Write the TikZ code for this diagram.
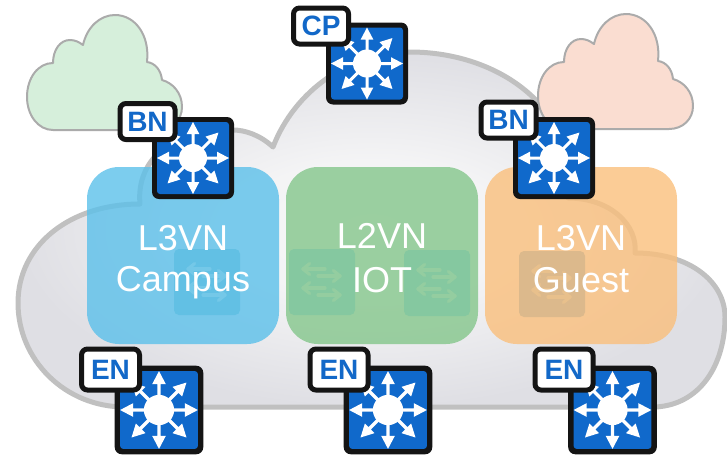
\documentclass[tikz,border=0pt]{standalone}
\usepackage{fontspec}
\setmainfont{Liberation Sans}
\definecolor{iconblue}{HTML}{1069CB}
\definecolor{iconblack}{HTML}{141414}
\definecolor{labelblue}{HTML}{1268C8}
\pgfdeclareradialshading{cloudshade}{\pgfpoint{0bp}{0bp}}{rgb(0bp)=(0.97,0.97,0.975);rgb(10bp)=(0.955,0.955,0.96);rgb(25bp)=(0.875,0.875,0.895);rgb(50bp)=(0.875,0.875,0.895)}
\tikzset{
  x=1pt,y=-1pt,
  bigcloud/.style={draw={rgb,255:red,192;green,192;blue,192},line width=5pt,line join=round,shading=cloudshade},
  smallcloud/.style={draw=black!33,line width=2pt,line join=round},
  vnbox/.style={rounded corners=32pt,opacity=.8},
  tile/.style={rounded corners=5pt},
  vntext/.style={inner sep=0pt,text=white,font=\fontsize{36}{36}\selectfont,anchor=base},
  tagbox/.style={draw=iconblack,line width=5pt,fill=white,rounded corners=6pt,inner sep=0pt,minimum width=55pt,minimum height=36pt,text=labelblue,font=\bfseries\fontsize{28}{28}\selectfont},
  swt/.pic={
    \fill[iconblack,rounded corners=7pt] (-41,-41) rectangle (41,41);
    \fill[iconblue,rounded corners=3pt] (-36,-36) rectangle (36,36);
    \fill[white] (0,0) circle (14);
    \foreach \a in {0,45,...,315}{
      \fill[white,rotate=\a] (0,-1.5) -- (24,-1.5) -- (24,-6.3) -- (36,0) -- (24,6.3) -- (24,1.5) -- (0,1.5) -- cycle;
    }
  },
  flow/.pic={
    \foreach \yy/\sx/\ex in {20/36/14,27/29/51,39/36/14,46/29/51}{
      \draw[line width=3.2pt,line cap=round,line join=round,pic actions] (\sx,\yy) -- (\ex,\yy);
      \draw[line width=3.2pt,line cap=round,line join=round,pic actions] ({\ex+(\sx-\ex)*0.3},\yy-5.5) -- (\ex,\yy) -- ({\ex+(\sx-\ex)*0.3},\yy+5.5);
    }
  },
}
\newcommand{\smallcloudpath}{(53,130) .. controls (38,130) and (27,115) .. (27,97) .. controls (27,78) and (38,63) .. (53,63) .. controls (53,50) and (60,40) .. (70,40) .. controls (75,40) and (79,42) .. (83,45) .. controls (87,27) and (100,15) .. (115,15) .. controls (135,15) and (150,35) .. (147,62) .. controls (155,63) and (161,70) .. (162,80) .. controls (173,83) and (182,93) .. (182,107) .. controls (182,120) and (172,130) .. (158,130) -- cycle}
\begin{document}
\begin{tikzpicture}
\useasboundingbox (0,0) rectangle (727,456);
% big cloud
\path[bigcloud] (140,204) .. controls (70,204) and (18,245) .. (18,303) .. controls (18,360) and (65,407) .. (125,407) -- (655,407) .. controls (700,405) and (725,365) .. (725,317) .. controls (725,282) and (690,253) .. (635,253) .. controls (638,225) and (610,198) .. (568,198) .. controls (580,110) and (500,52) .. (410,52) .. controls (350,52) and (295,90) .. (273,147) .. controls (260,135) and (245,130) .. (233,130) .. controls (190,125) and (135,150) .. (140,204) -- cycle;
% small clouds
\draw[smallcloud,fill={rgb,255:red,214;green,239;blue,219}] \smallcloudpath;
\draw[smallcloud,fill={rgb,255:red,250;green,221;blue,209},shift={(511,-1)}] \smallcloudpath;
% VN panels
\fill[vnbox,fill={rgb,255:red,91;green,192;blue,234}] (87,167) rectangle (279,344);
\fill[vnbox,fill={rgb,255:red,132;green,198;blue,139}] (286,167) rectangle (478,344);
\fill[vnbox,fill={rgb,255:red,250;green,191;blue,124}] (485,167) rectangle (677,344);
% faint tiles
\fill[tile,fill={rgb,255:red,98;green,192;blue,228}] (174,249) rectangle (240,315);
\fill[tile,fill={rgb,255:red,133;green,200;blue,160}] (289,249) rectangle (355,315);
\fill[tile,fill={rgb,255:red,133;green,200;blue,160}] (404,250) rectangle (470,316);
\fill[tile,fill={rgb,255:red,220;green,185;blue,140}] (519,251) rectangle (585,317);
\pic[draw={rgb,255:red,116;green,200;blue,232}] at (174,249) {flow};
\pic[draw={rgb,255:red,148;green,205;blue,160}] at (289,249) {flow};
\pic[draw={rgb,255:red,148;green,205;blue,160}] at (404,250) {flow};
\pic[draw={rgb,255:red,232;green,192;blue,140}] at (519,251) {flow};
% texts
\node[vntext] (t1) at (183,250) {L3VN};
\node[vntext] (t2) at (183,291) {Campus};
\node[vntext] (t3) at (382,248) {L2VN};
\node[vntext] (t4) at (382,292) {IOT};
\node[vntext] (t5) at (581,250) {L3VN};
\node[vntext] (t6) at (581,292) {Guest};
% icons
\pic at (367,63.5) {swt};
\pic at (193,158) {swt};
\pic at (554,158) {swt};
\pic[scale=1.08] at (159,410) {swt};
\pic[scale=1.08] at (388,410) {swt};
\pic[scale=1.08] at (612.5,410) {swt};
% tags
\node[tagbox] (cp) at (321,26) {CP};
\node[tagbox] (bn1) at (147.5,121.5) {BN};
\node[tagbox] (bn2) at (508.5,120) {BN};
\node[tagbox,minimum width=58pt,minimum height=41pt] (en1) at (110.5,369.5) {EN};
\node[tagbox,minimum width=58pt,minimum height=41pt] (en2) at (339,369.5) {EN};
\node[tagbox,minimum width=58pt,minimum height=41pt] (en3) at (564,369.5) {EN};
\end{tikzpicture}
\end{document}
